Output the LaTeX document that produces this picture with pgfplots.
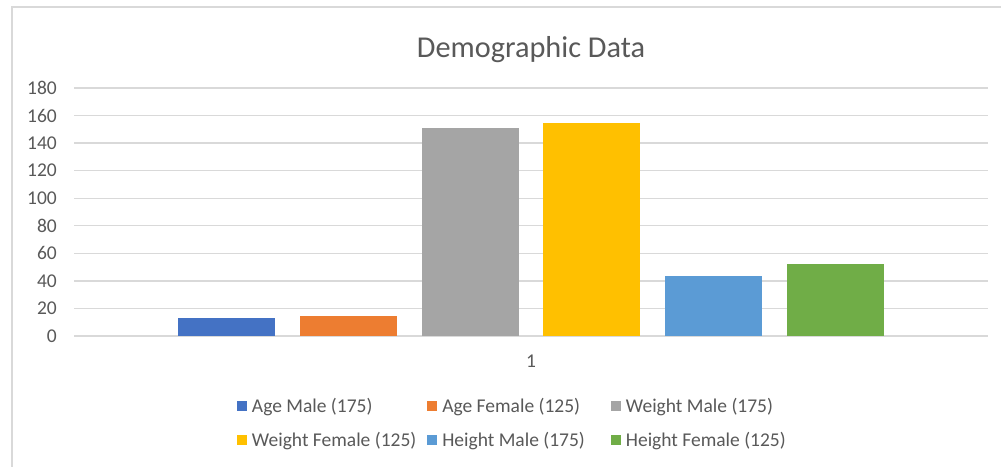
\documentclass[border=0pt]{standalone}
\usepackage{pgfplots}
\pgfplotsset{compat=1.18}
\usepackage{fontspec}
\setmainfont{Carlito}
\definecolor{txt}{HTML}{595959}
\definecolor{grd}{HTML}{D9D9D9}
\definecolor{c1}{HTML}{4472C4}
\definecolor{c2}{HTML}{ED7D31}
\definecolor{c3}{HTML}{A5A5A5}
\definecolor{c4}{HTML}{FFC000}
\definecolor{c5}{HTML}{5B9BD5}
\definecolor{c6}{HTML}{70AD47}
\pgfplotsset{sq legend/.style={legend image code/.code={\fill[##1] (0pt,-5pt) rectangle (10pt,5pt);}}}
\begin{document}
\begin{tikzpicture}[x=1pt,y=1pt]
\useasboundingbox (0,0) rectangle (1001,466);
\fill[white] (0,0) rectangle (1001,466);
\begin{axis}[
  at={(74pt,130pt)}, anchor=south west,
  scale only axis, width=914pt, height=248pt,
  xmin=-457, xmax=457, ymin=0, ymax=180,
  ybar=24.7pt, bar width=97pt,
  xtick={0}, xticklabels={1},
  ytick={0,20,...,180},
  ymajorgrids, grid style={grd, line width=1.3pt},
  axis line style={draw=none},
  major tick length=0pt,
  /pgf/number format/assume math mode=true,
  tick label style={font=\fontsize{19.5}{23}\selectfont, text=txt, inner sep=0pt},
  yticklabel style={anchor=east, xshift=-17pt},
  xticklabel style={anchor=north, yshift=-19pt},
  title={Demographic Data},
  title style={at={(axis description cs:0.5,1.129)}, anchor=center, font=\fontsize{30.3}{36}\selectfont, text=txt},
  legend columns=3,
  legend style={at={(axis description cs:0.1748,-0.234)}, anchor=north west, draw=none, fill=none,
    font=\fontsize{19.5}{23}\selectfont, text=txt, row sep=14pt,
    /tikz/column 1/.style={column sep=3pt},
    /tikz/column 2/.style={column sep=9pt},
    /tikz/column 3/.style={column sep=3pt},
    /tikz/column 4/.style={column sep=24pt},
    /tikz/column 5/.style={column sep=3pt}},
  legend cell align=left,
]
\addplot[fill=c1, draw=none, sq legend] coordinates {(0,12.9)};
\addlegendentry{Age Male (175)}
\addplot[fill=c2, draw=none, sq legend] coordinates {(0,14.4)};
\addlegendentry{Age Female (125)}
\addplot[fill=c3, draw=none, sq legend] coordinates {(0,151.2)};
\addlegendentry{Weight Male (175)}
\addplot[fill=c4, draw=none, sq legend] coordinates {(0,154.4)};
\addlegendentry{Weight Female (125)}
\addplot[fill=c5, draw=none, sq legend] coordinates {(0,43.7)};
\addlegendentry{Height Male (175)}
\addplot[fill=c6, draw=none, sq legend] coordinates {(0,52.0)};
\addlegendentry{Height Female (125)}
\end{axis}
\draw[grd, line width=2pt] (12,-20) -- (12,459) -- (1020,459);
\end{tikzpicture}
\end{document}
